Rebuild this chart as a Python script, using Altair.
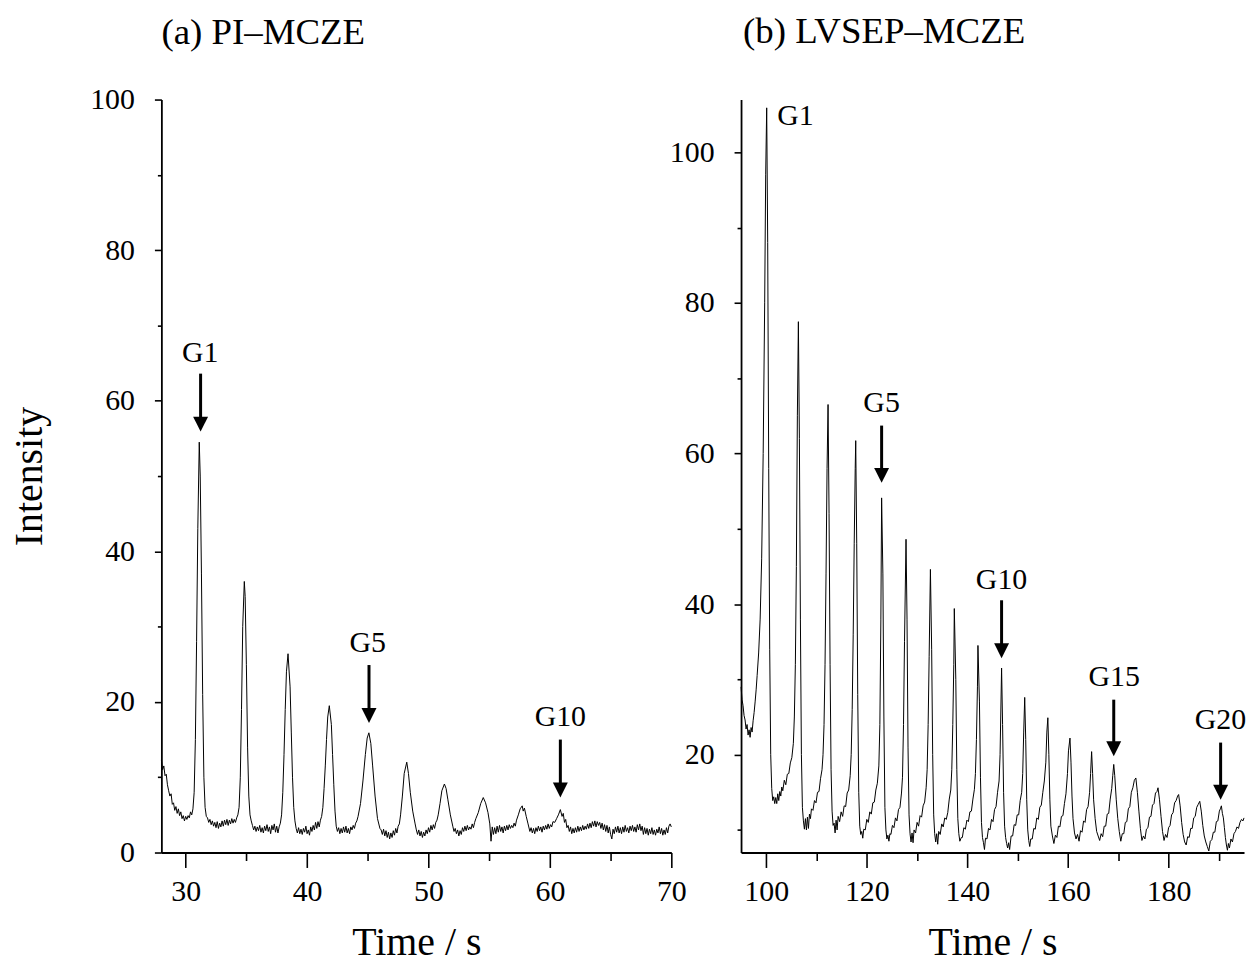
import altair as alt
import pandas as pd

FONT = "Liberation Serif"

# ---------------- Panel (a) PI-MCZE trace ----------------
a_time = [
    28.0, 28.1, 28.2, 28.3, 28.4, 28.5, 28.6, 28.7, 28.8, 28.9, 29.0, 29.1, 29.2, 29.3, 29.4, 29.5,
    29.6, 29.7, 29.8, 29.9, 30.0, 30.1, 30.2, 30.3, 30.4, 30.5, 30.6, 30.7, 30.8, 30.9, 31.0, 31.12,
    31.2, 31.3, 31.4, 31.5, 31.6, 31.7, 31.8, 31.9, 32.0, 32.1, 32.2, 32.3, 32.4, 32.5, 32.6, 32.7,
    32.8, 32.9, 33.0, 33.1, 33.2, 33.3, 33.4, 33.5, 33.6, 33.7, 33.8, 33.9, 34.0, 34.1, 34.2, 34.3,
    34.4, 34.5, 34.6, 34.7, 34.83, 34.9, 35.0, 35.1, 35.2, 35.3, 35.4, 35.5, 35.6, 35.7, 35.8, 35.9,
    36.0, 36.1, 36.2, 36.3, 36.4, 36.5, 36.6, 36.7, 36.8, 36.9, 37.0, 37.1, 37.2, 37.3, 37.4, 37.5,
    37.6, 37.7, 37.8, 37.9, 38.0, 38.1, 38.2, 38.3, 38.43, 38.6, 38.7, 38.8, 38.9, 39.0, 39.1, 39.2,
    39.3, 39.4, 39.5, 39.6, 39.7, 39.8, 39.9, 40.0, 40.1, 40.2, 40.3, 40.4, 40.5, 40.6, 40.7, 40.8,
    40.9, 41.0, 41.1, 41.2, 41.3, 41.4, 41.5, 41.6, 41.7, 41.83, 42.0, 42.1, 42.2, 42.3, 42.4, 42.5,
    42.6, 42.7, 42.8, 42.9, 43.0, 43.1, 43.2, 43.3, 43.4, 43.5, 43.6, 43.7, 43.8, 43.9, 44.0, 44.1,
    44.2, 44.4, 44.6, 44.8, 44.95, 45.09, 45.25, 45.4, 45.6, 45.8, 46.0, 46.1, 46.2, 46.3, 46.4, 46.5,
    46.6, 46.7, 46.8, 46.9, 47.0, 47.1, 47.2, 47.3, 47.4, 47.5, 47.6, 47.7, 47.85, 48.0, 48.21, 48.35,
    48.5, 48.7, 48.9, 49.0, 49.1, 49.2, 49.3, 49.4, 49.5, 49.6, 49.7, 49.8, 49.9, 50.0, 50.1, 50.2,
    50.3, 50.4, 50.5, 50.6, 50.7, 50.8, 50.95, 51.1, 51.31, 51.45, 51.6, 51.8, 52.0, 52.1, 52.2, 52.3,
    52.4, 52.5, 52.6, 52.7, 52.8, 52.9, 53.0, 53.1, 53.2, 53.3, 53.4, 53.5, 53.6, 53.7, 53.8, 53.9,
    54.1, 54.3, 54.51, 54.7, 54.9, 55.05, 55.15, 55.25, 55.35, 55.45, 55.55, 55.65, 55.75, 55.85, 55.95, 56.05,
    56.15, 56.25, 56.35, 56.45, 56.55, 56.65, 56.75, 56.85, 56.95, 57.05, 57.15, 57.25, 57.4, 57.55, 57.72, 57.8,
    57.9, 58.05, 58.2, 58.35, 58.45, 58.55, 58.65, 58.75, 58.85, 58.95, 59.05, 59.15, 59.25, 59.35, 59.45, 59.55,
    59.65, 59.75, 59.85, 59.95, 60.05, 60.15, 60.25, 60.4, 60.55, 60.7, 60.86, 61.0, 61.1, 61.2, 61.3, 61.4,
    61.5, 61.6, 61.7, 61.8, 61.9, 62.0, 62.1, 62.2, 62.3, 62.4, 62.5, 62.6, 62.7, 62.8, 62.9, 63.0,
    63.1, 63.2, 63.3, 63.4, 63.5, 63.6, 63.7, 63.8, 63.9, 64.0, 64.1, 64.2, 64.3, 64.4, 64.5, 64.6,
    64.7, 64.8, 64.9, 65.0, 65.1, 65.2, 65.3, 65.4, 65.5, 65.6, 65.7, 65.8, 65.9, 66.0, 66.1, 66.2,
    66.3, 66.4, 66.5, 66.6, 66.7, 66.8, 66.9, 67.0, 67.1, 67.2, 67.3, 67.4, 67.5, 67.6, 67.7, 67.8,
    67.9, 68.0, 68.1, 68.2, 68.3, 68.4, 68.5, 68.6, 68.7, 68.8, 68.9, 69.0, 69.1, 69.2, 69.3, 69.4,
    69.5, 69.6, 69.7, 69.8, 69.9, 70.0,
]
a_intensity = [
    12.3, 11.0, 11.5, 10.2, 10.4, 9.0, 8.2, 7.5, 7.8, 6.4, 6.6, 5.6, 6.1, 5.2, 5.8, 4.9,
    5.4, 4.5, 4.9, 4.2, 4.8, 4.4, 4.9, 4.6, 5.4, 5.0, 5.8, 8.0, 15.0, 28.0, 43.0, 54.5,
    50.0, 37.0, 21.0, 10.0, 6.0, 4.8, 4.6, 4.0, 4.4, 3.7, 4.2, 3.5, 4.0, 3.3, 4.1, 3.2,
    3.9, 3.4, 4.2, 3.5, 4.3, 3.7, 4.4, 3.6, 4.3, 3.8, 4.5, 3.9, 4.4, 4.0, 4.6, 5.0,
    6.0, 10.0, 19.0, 30.0, 36.0, 34.0, 25.0, 14.0, 7.5, 5.0, 4.2, 3.6, 3.0, 3.5, 2.8, 3.4,
    2.9, 3.6, 2.7, 3.3, 2.6, 3.5, 2.9, 3.7, 2.8, 3.4, 2.5, 3.6, 3.0, 3.8, 2.7, 3.5,
    2.6, 3.4, 3.9, 5.0, 8.0, 13.0, 19.0, 24.0, 26.4, 22.0, 16.0, 10.0, 6.0, 4.2, 3.2, 2.6,
    3.3, 2.5, 3.1, 2.4, 3.2, 2.7, 3.5, 2.5, 3.0, 2.3, 3.4, 2.8, 3.6, 3.0, 4.0, 3.2,
    4.1, 3.4, 4.3, 4.8, 6.0, 8.5, 11.5, 15.0, 18.0, 19.5, 17.0, 13.0, 9.0, 5.5, 3.5, 2.8,
    3.3, 2.5, 3.2, 2.6, 3.4, 2.7, 3.5, 2.6, 3.2, 2.5, 3.4, 3.0, 3.6, 3.2, 3.9, 4.2,
    4.8, 6.5, 9.5, 13.0, 15.2, 15.9, 14.5, 11.5, 7.5, 4.5, 3.2, 3.0, 2.4, 3.1, 2.2, 2.9,
    2.0, 2.7, 1.8, 2.6, 2.0, 2.9, 2.3, 3.2, 2.6, 3.5, 3.8, 5.0, 7.5, 10.5, 12.0, 10.5,
    8.0, 5.5, 3.8, 3.0, 2.4, 3.0, 2.2, 2.8, 2.0, 2.7, 2.2, 3.0, 2.5, 3.3, 2.7, 3.6,
    3.0, 3.7, 3.2, 4.0, 4.3, 5.0, 6.5, 8.2, 9.1, 8.5, 7.0, 5.0, 3.5, 2.8, 3.2, 2.5,
    3.0, 2.2, 2.9, 2.4, 3.3, 2.8, 3.5, 2.9, 3.6, 3.0, 3.4, 3.1, 3.8, 3.3, 4.0, 4.5,
    5.3, 6.5, 7.3, 6.6, 5.3, 3.8, 1.5, 3.4, 2.4, 3.3, 2.5, 3.5, 2.7, 3.6, 2.8, 3.4,
    2.6, 3.5, 2.9, 3.6, 3.0, 3.7, 3.2, 3.6, 3.3, 3.9, 3.5, 4.3, 5.0, 5.8, 6.2, 5.5,
    5.9, 4.8, 3.8, 2.8, 3.3, 2.6, 3.2, 2.5, 3.3, 2.8, 3.5, 2.9, 3.4, 2.7, 3.5, 3.0,
    3.6, 3.1, 3.8, 3.2, 3.7, 3.4, 4.1, 4.0, 4.5, 5.0, 5.7, 4.8, 5.2, 4.0, 4.4, 3.3,
    3.6, 2.8, 3.4, 2.5, 3.2, 2.6, 3.3, 2.7, 3.5, 2.8, 3.4, 2.9, 3.6, 3.0, 3.5, 3.1,
    3.8, 3.2, 3.9, 3.3, 4.1, 3.5, 4.2, 3.4, 4.1, 3.6, 4.0, 3.2, 3.9, 3.0, 3.7, 2.8,
    3.6, 2.6, 3.4, 2.4, 1.8, 3.1, 2.5, 3.4, 2.7, 3.5, 2.6, 3.3, 2.5, 3.4, 2.7, 3.6,
    2.8, 3.3, 2.6, 3.5, 2.9, 3.6, 2.8, 3.4, 2.7, 3.7, 3.0, 3.8, 2.9, 3.5, 2.4, 3.3,
    2.5, 3.2, 2.3, 3.1, 2.5, 3.3, 2.4, 3.0, 2.3, 3.1, 2.6, 3.4, 2.5, 3.2, 2.3, 3.0,
    2.4, 3.3, 2.6, 3.5, 3.8, 3.4,
]

# ---------------- Panel (b) LVSEP-MCZE trace ----------------
b_time = [
    95.0, 95.2, 95.4, 95.6, 95.8, 96.0, 96.2, 96.4, 96.6, 96.8, 97.0, 97.2, 97.4, 97.6, 97.8, 98.0,
    98.2, 98.5, 98.8, 99.1, 99.4, 99.7, 99.9, 100.1, 100.3, 100.5, 100.7, 100.9, 101.1, 101.3, 101.5, 101.7,
    101.9, 102.1, 102.3, 102.5, 102.7, 102.9, 103.1, 103.3, 103.6, 103.9, 104.2, 104.5, 104.8, 105.1, 105.4, 105.6,
    105.8, 106.0, 106.2, 106.4, 106.6, 106.8, 107.0, 107.2, 107.4, 107.6, 107.8, 108.0, 108.2, 108.4, 108.6, 108.8,
    109.0, 109.3, 109.6, 109.9, 110.2, 110.5, 110.8, 111.1, 111.3, 111.5, 111.7, 111.9, 112.1, 112.3, 112.5, 112.7,
    112.9, 113.1, 113.3, 113.5, 113.7, 113.9, 114.1, 114.3, 114.6, 114.9, 115.2, 115.5, 115.8, 116.1, 116.4, 116.7,
    116.9, 117.1, 117.3, 117.5, 117.7, 117.8, 118.0, 118.2, 118.4, 118.6, 118.8, 119.0, 119.2, 119.4, 119.7, 120.0,
    120.3, 120.6, 120.9, 121.2, 121.5, 121.8, 122.1, 122.4, 122.6, 122.8, 122.95, 123.2, 123.4, 123.6, 123.8, 124.0,
    124.2, 124.4, 124.6, 124.8, 125.1, 125.4, 125.7, 126.0, 126.3, 126.6, 126.9, 127.1, 127.3, 127.5, 127.8, 128.0,
    128.2, 128.4, 128.6, 128.8, 129.0, 129.2, 129.4, 129.7, 130.0, 130.3, 130.6, 130.9, 131.2, 131.5, 131.8, 132.0,
    132.2, 132.4, 132.65, 132.9, 133.1, 133.3, 133.5, 133.7, 133.9, 134.1, 134.3, 134.6, 134.9, 135.2, 135.5, 135.8,
    136.1, 136.4, 136.7, 136.9, 137.1, 137.3, 137.4, 137.7, 137.9, 138.1, 138.3, 138.5, 138.8, 139.0, 139.3, 139.6,
    139.9, 140.2, 140.5, 140.8, 141.1, 141.4, 141.6, 141.8, 142.0, 142.1, 142.4, 142.6, 142.8, 143.0, 143.2, 143.4,
    143.6, 143.9, 144.2, 144.5, 144.8, 145.1, 145.4, 145.7, 146.0, 146.3, 146.5, 146.8, 147.0, 147.2, 147.4, 147.6,
    147.8, 148.0, 148.2, 148.4, 148.7, 149.0, 149.3, 149.6, 149.9, 150.2, 150.5, 150.8, 151.0, 151.2, 151.4, 151.6,
    151.8, 152.0, 152.2, 152.4, 152.6, 152.9, 153.2, 153.5, 153.8, 154.1, 154.4, 154.7, 155.0, 155.3, 155.6, 155.8,
    156.0, 156.2, 156.4, 156.6, 156.9, 157.2, 157.5, 157.8, 158.1, 158.4, 158.7, 159.0, 159.3, 159.6, 159.9, 160.1,
    160.4, 160.6, 160.8, 161.0, 161.3, 161.6, 161.9, 162.2, 162.5, 162.8, 163.1, 163.4, 163.7, 164.0, 164.3, 164.5,
    164.7, 164.9, 165.1, 165.4, 165.7, 166.0, 166.3, 166.6, 166.9, 167.2, 167.5, 167.8, 168.1, 168.4, 168.7, 168.9,
    169.1, 169.3, 169.6, 169.9, 170.2, 170.5, 170.8, 171.1, 171.4, 171.7, 172.0, 172.3, 172.6, 172.9, 173.2, 173.5,
    173.8, 174.1, 174.4, 174.7, 175.0, 175.3, 175.6, 175.9, 176.2, 176.5, 176.8, 177.1, 177.4, 177.7, 177.9, 178.2,
    178.5, 178.8, 179.1, 179.4, 179.7, 180.0, 180.3, 180.6, 180.9, 181.2, 181.5, 181.8, 182.0, 182.3, 182.6, 182.9,
    183.2, 183.5, 183.8, 184.1, 184.4, 184.7, 185.0, 185.3, 185.6, 185.9, 186.2, 186.5, 186.8, 187.1, 187.4, 187.7,
    188.0, 188.3, 188.6, 188.9, 189.2, 189.5, 189.8, 190.1, 190.3, 190.5, 190.7, 190.9, 191.1, 191.3, 191.5, 191.7,
    191.9, 192.1, 192.4, 192.7, 193.0, 193.3, 193.6, 193.9, 194.2, 194.5, 194.8, 195.0,
]
b_intensity = [
    29.0, 27.3, 26.5, 25.2, 24.6, 23.4, 24.0, 22.6, 23.3, 22.3, 23.6, 23.0, 24.5, 25.6, 27.0, 28.6,
    30.5, 33.5, 38.0, 46.0, 60.0, 80.0, 97.0, 105.9, 88.0, 58.0, 34.0, 20.0, 15.5, 13.9, 14.4, 13.5,
    14.3, 13.5, 14.8, 13.9, 15.1, 14.5, 15.7, 15.2, 16.6, 16.0, 17.4, 17.5, 18.9, 19.6, 21.5, 25.0,
    32.0, 45.0, 65.0, 77.5, 62.0, 38.0, 20.0, 13.0, 11.2, 10.1, 11.5, 10.0, 11.7, 10.2, 12.1, 11.5,
    12.8, 12.6, 13.9, 13.6, 15.0, 15.1, 16.8, 18.0, 20.0, 24.0, 32.0, 44.0, 58.0, 66.5, 52.0, 32.0,
    18.0, 12.5, 10.6, 10.9, 9.6, 11.3, 10.0, 11.8, 11.1, 12.4, 11.8, 13.2, 13.1, 14.9, 15.3, 17.2,
    20.0, 26.0, 36.0, 48.0, 58.0, 61.7, 48.0, 28.0, 15.0, 10.5, 9.4, 9.8, 8.9, 10.1, 10.0, 11.4,
    11.0, 12.4, 12.1, 13.6, 13.7, 15.3, 16.2, 18.5, 24.0, 38.0, 54.1, 44.0, 25.0, 13.0, 10.0, 8.8,
    9.3, 8.5, 9.5, 9.4, 10.6, 10.3, 11.6, 11.2, 12.7, 13.0, 14.9, 17.0, 24.0, 35.0, 48.6, 38.0,
    21.0, 12.0, 9.5, 8.4, 9.6, 8.3, 10.0, 9.6, 11.0, 10.5, 11.9, 11.7, 13.2, 13.7, 15.6, 18.0,
    24.0, 33.0, 44.6, 34.0, 20.0, 12.0, 9.5, 8.4, 9.5, 8.1, 9.8, 9.4, 10.8, 10.4, 11.6, 11.4,
    12.3, 14.1, 15.3, 18.0, 24.0, 32.0, 39.4, 30.0, 18.0, 11.5, 9.5, 8.5, 9.0, 9.0, 10.3, 10.1,
    11.3, 11.1, 12.4, 12.5, 14.1, 15.4, 17.5, 22.0, 29.0, 34.5, 27.0, 17.0, 11.0, 9.0, 8.3, 7.4,
    8.9, 8.8, 10.2, 10.0, 11.4, 11.1, 12.7, 13.1, 15.0, 16.5, 20.0, 31.5, 24.0, 15.0, 10.5, 9.0,
    8.2, 7.6, 8.3, 7.4, 9.2, 9.2, 10.7, 10.6, 12.0, 12.0, 13.9, 15.0, 17.5, 23.0, 27.6, 22.0,
    14.0, 10.0, 8.6, 7.8, 8.8, 8.8, 10.2, 10.1, 11.6, 11.4, 13.0, 13.3, 15.0, 16.5, 19.0, 23.0,
    24.9, 20.0, 14.0, 10.5, 9.2, 8.2, 9.3, 9.0, 10.5, 10.4, 11.8, 11.9, 13.5, 14.8, 17.5, 20.5,
    22.2, 19.0, 14.5, 11.5, 9.6, 8.8, 9.4, 8.5, 9.9, 9.7, 11.2, 11.0, 12.7, 13.1, 15.0, 17.5,
    20.4, 17.5, 14.0, 11.5, 9.8, 9.2, 8.6, 9.5, 9.1, 10.5, 10.5, 12.1, 12.2, 14.1, 15.5, 17.2,
    18.7, 17.2, 14.0, 11.5, 9.8, 8.5, 9.5, 9.5, 11.0, 11.1, 12.8, 13.1, 15.0, 15.6, 16.6, 16.9,
    15.0, 12.5, 10.2, 8.6, 9.2, 8.8, 10.1, 10.3, 11.7, 11.8, 13.3, 13.5, 14.9, 15.1, 15.6, 14.0,
    11.8, 9.8, 8.6, 9.4, 9.0, 10.3, 10.6, 12.0, 12.3, 13.6, 13.9, 14.5, 14.7, 13.2, 11.0, 9.4,
    8.4, 8.0, 9.1, 9.0, 10.2, 10.2, 11.6, 11.8, 13.0, 13.4, 13.8, 12.5, 10.6, 9.2, 8.4, 7.8,
    7.2, 8.5, 8.7, 9.7, 9.7, 11.1, 11.2, 12.5, 12.8, 13.2, 12.2, 11.6, 10.3, 9.0, 8.0, 7.3,
    8.2, 7.6, 8.8, 8.4, 9.5, 9.8, 10.4, 10.2, 11.0, 11.4, 11.2, 11.6,
]

# ---------------- Annotations (peak labels and arrows) ----------------
a_label_text = ["G1", "G5", "G10"]
a_label_time = [31.2, 45.0, 60.86]
a_label_int = [65.1, 26.6, 16.8]
a_arrow_time = [31.23, 45.1, 60.86]
a_arrow_top = [63.6, 24.9, 15.0]
a_arrow_tip = [55.9, 17.2, 7.3]

b_label_text = ["G1", "G5", "G10", "G15", "G20"]
b_label_time = [102.2, 122.95, 146.8, 169.2, 190.3]
b_label_int = [103.6, 65.5, 42.0, 29.05, 23.45]
b_label_align = ["left", "center", "center", "center", "center"]
b_arrow_time = [122.95, 146.8, 169.1, 190.35]
b_arrow_top = [63.7, 40.5, 27.3, 21.6]
b_arrow_tip = [56.1, 32.8, 19.8, 14.0]

# ---------------- Axes ----------------
a_x_domain = [28, 70]
a_x_major = [30, 40, 50, 60, 70]
a_x_minor = [35, 45, 55, 65]
a_y_domain = [0, 100]
a_y_major = [0, 20, 40, 60, 80, 100]
a_y_minor = [10, 30, 50, 70, 90]

b_x_domain = [95, 195]
b_x_major = [100, 120, 140, 160, 180]
b_x_minor = [110, 130, 150, 170, 190]
b_y_domain = [7, 107]
b_y_major = [20, 40, 60, 80, 100]
b_y_minor = [10, 30, 50, 70, 90]

ARROW_HEAD = "M-1,-2L1,-2L0,0Z"


def major_axis(values, orient, title, tick, lab_pad, title_pad):
    return alt.Axis(
        values=values, orient=orient, title=title, grid=False,
        tickSize=tick, tickWidth=1.6, tickColor="black",
        domain=True, domainWidth=1.8, domainColor="black",
        labelFont=FONT, labelFontSize=30, labelColor="black", labelPadding=lab_pad,
        labelFlush=False, labelOverlap=False, format="d",
        titleFont=FONT, titleFontSize=40, titleFontWeight="normal", titleColor="black",
        titlePadding=title_pad,
    )


def minor_axis(values, orient, tick):
    return alt.Axis(
        values=values, orient=orient, title=None, grid=False, labels=False,
        domain=False, tickSize=tick, tickWidth=1.6, tickColor="black",
    )


def panel(time, inten, lab_txt, lab_t, lab_i, lab_align, arr_t, arr_top, arr_tip,
          xdom, xmaj, xmin, ydom, ymaj, ymin, ytitle, title, title_offset, title_dx, w, h):
    trace = pd.DataFrame({"t": time, "v": inten})
    labels = pd.DataFrame({"t": lab_t, "v": lab_i, "txt": lab_txt, "al": lab_align})
    arrows = pd.DataFrame({"t": arr_t, "top": arr_top, "tip": arr_tip})

    xs = alt.Scale(domain=xdom, nice=False, zero=False)
    ys = alt.Scale(domain=ydom, nice=False, zero=False)

    line = alt.Chart(trace).mark_line(color="black", strokeWidth=1.0).encode(
        x=alt.X("t:Q", scale=xs, axis=major_axis(xmaj, "bottom", "Time / s", 15, 9, 16)),
        y=alt.Y("v:Q", scale=ys, axis=major_axis(ymaj, "left", ytitle, 7, 20, 40)),
    )
    shaft = alt.Chart(arrows).mark_rule(color="black", strokeWidth=3, y2Offset=-8).encode(
        x=alt.X("t:Q", scale=xs, axis=minor_axis(xmin, "bottom", 8)),
        y=alt.Y("top:Q", scale=ys, axis=minor_axis(ymin, "left", 4)),
        y2="tip:Q",
    )
    head = alt.Chart(arrows).mark_point(
        shape=ARROW_HEAD, size=225, filled=True, color="black", opacity=1, strokeWidth=0
    ).encode(
        x=alt.X("t:Q", scale=xs, axis=None),
        y=alt.Y("tip:Q", scale=ys, axis=None),
    )

    txt_layers = []
    for al in ["left", "center"]:
        sub = labels[labels["al"] == al]
        if len(sub):
            txt_layers.append(
                alt.Chart(sub).mark_text(
                    font=FONT, fontSize=30, color="black", align=al, baseline="alphabetic"
                ).encode(
                    x=alt.X("t:Q", scale=xs, axis=None),
                    y=alt.Y("v:Q", scale=ys, axis=None),
                    text="txt:N",
                )
            )

    return alt.layer(line, shaft, head, *txt_layers).resolve_axis(
        x="independent", y="independent"
    ).properties(
        width=w, height=h,
        view=alt.ViewBackground(strokeOpacity=0, strokeWidth=0, fill="white"),
        title=alt.TitleParams(
            text=title, anchor="start", frame="group", font=FONT, fontSize=37,
            fontWeight="normal", color="black", baseline="alphabetic",
            offset=title_offset, dx=title_dx,
        ),
    )


left = panel(a_time, a_intensity, a_label_text, a_label_time, a_label_int,
             ["center"] * 3, a_arrow_time, a_arrow_top, a_arrow_tip,
             a_x_domain, a_x_major, a_x_minor, a_y_domain, a_y_major, a_y_minor,
             "Intensity", "(a) PI\u2013MCZE", 4, 0, 512, 756)
right = panel(b_time, b_intensity, b_label_text, b_label_time, b_label_int,
              b_label_align, b_arrow_time, b_arrow_top, b_arrow_tip,
              b_x_domain, b_x_major, b_x_minor, b_y_domain, b_y_major, b_y_minor,
              None, "(b) LVSEP\u2013MCZE", 20, 2, 505, 756)

chart = alt.hconcat(left, right, spacing=70, bounds="flush").properties(
    padding={"left": 2, "top": 3, "right": 0, "bottom": 0}
).configure_view(strokeOpacity=0, strokeWidth=0).configure(background="white")

chart.save("out.html", embed_options={"renderer": "svg", "actions": False})
